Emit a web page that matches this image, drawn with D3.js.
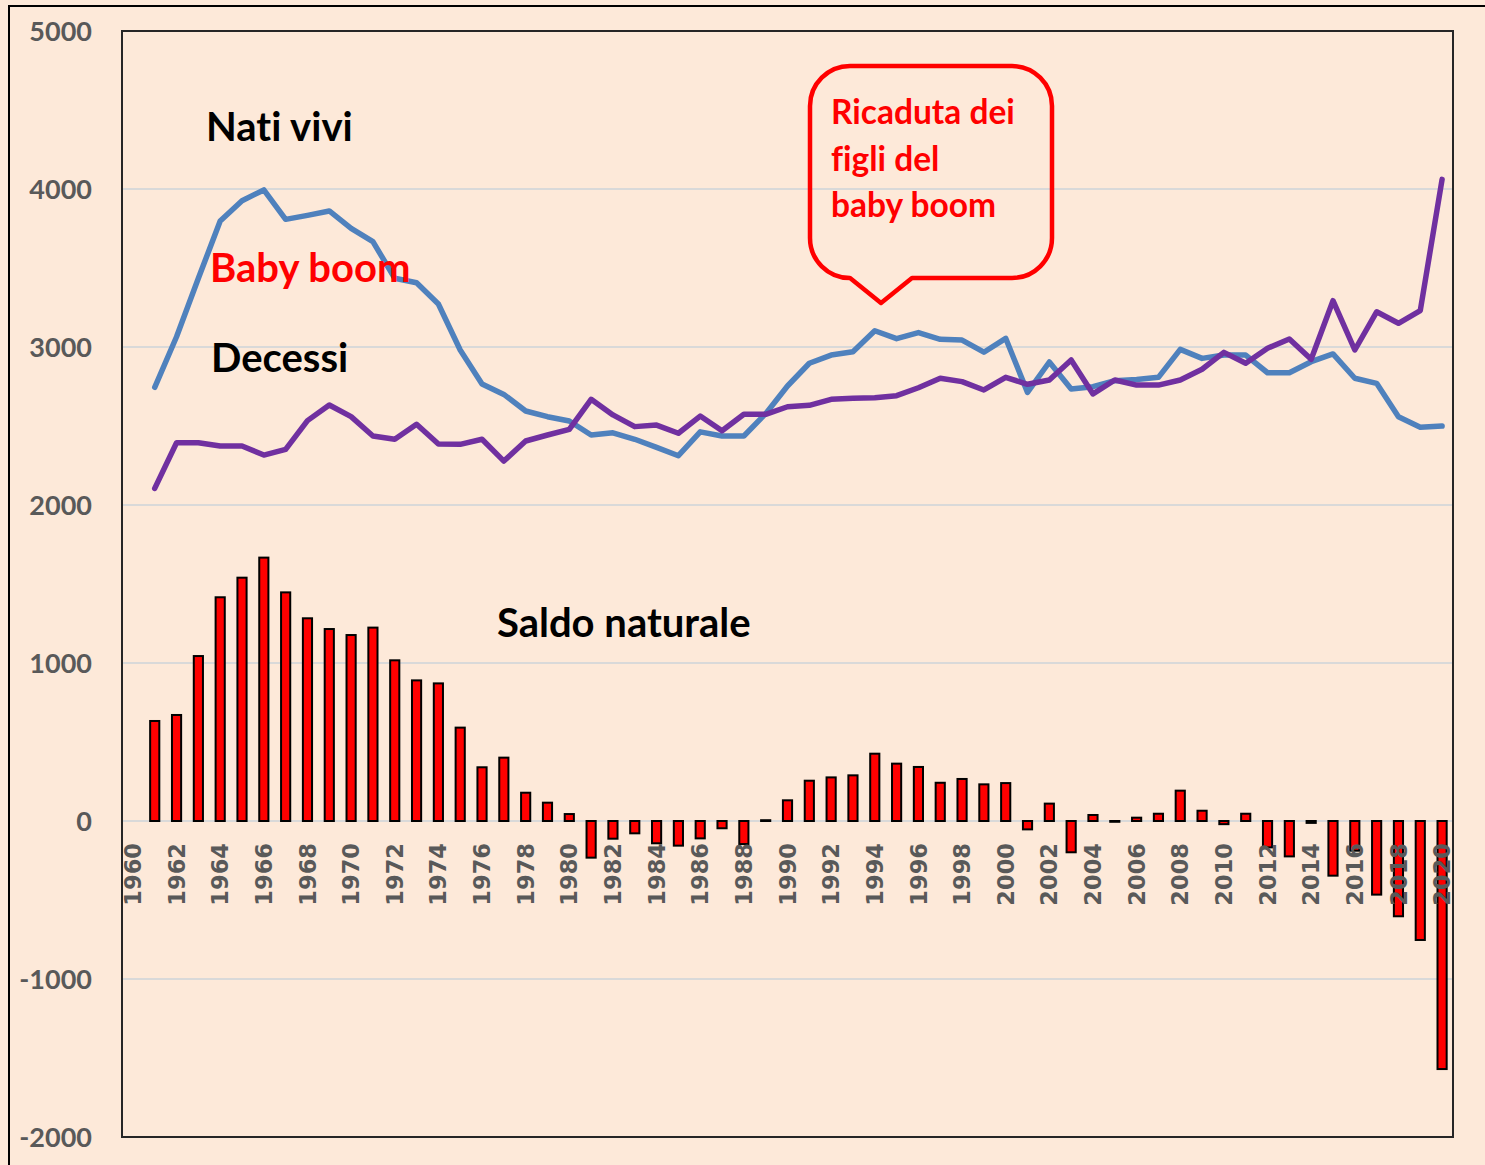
<!DOCTYPE html>
<html>
<head>
<meta charset="utf-8">
<script src="https://cdn.jsdelivr.net/npm/d3@7.9.0/dist/d3.min.js"></script>
<style>
  html, body { margin: 0; padding: 0; background: #fde9d9; }
  svg { display: block; }
  .ylab text { font-family: Lato, "Open Sans", sans-serif; font-weight: 700; font-size: 27px; fill: #595959; }
  .xlab text { font-family: "DejaVu Sans", sans-serif; font-weight: 700; font-size: 22.5px; fill: #595959; }
  .note { font-family: Lato, "Open Sans", sans-serif; font-weight: 700; font-variant-ligatures: none; }
</style>
</head>
<body>
<svg id="chart" width="1485" height="1165"></svg>
<script>
// anni 1960-2020 (1960 senza dati)
const years = d3.range(1960, 2021);

const natiVivi = [null,
  2745, 3065, 3435, 3797, 3926, 3994, 3808, 3833, 3861, 3751,
  3667, 3435, 3407, 3272, 2981, 2766, 2700, 2595, 2559, 2532,
  2443, 2457, 2416, 2365, 2312, 2463, 2437, 2437, 2578, 2753,
  2897, 2949, 2970, 3103, 3053, 3091, 3049, 3044, 2967, 3055,
  2713, 2905, 2734, 2749, 2787, 2795, 2808, 2985, 2928, 2949,
  2949, 2837, 2837, 2907, 2956, 2802, 2770, 2559, 2492, 2500];

const decessi = [null,
  2105, 2394, 2394, 2373, 2373, 2316, 2352, 2534, 2633, 2559,
  2437, 2416, 2511, 2386, 2384, 2416, 2278, 2405, 2443, 2479,
  2669, 2570, 2496, 2506, 2454, 2563, 2470, 2574, 2574, 2622,
  2631, 2669, 2675, 2679, 2692, 2742, 2802, 2781, 2728, 2808,
  2764, 2791, 2918, 2703, 2791, 2759, 2759, 2791, 2859, 2966,
  2897, 2992, 3051, 2922, 3293, 2981, 3223, 3150, 3230, 4061];

const saldo = [null,
  633, 671, 1044, 1416, 1540, 1667, 1447, 1283, 1215, 1177,
  1224, 1017, 890, 871, 591, 340, 401, 179, 116, 44,
  -232, -112, -78, -141, -156, -110, -46, -146, 5, 131,
  255, 276, 289, 426, 363, 342, 242, 266, 232, 240,
  -53, 110, -198, 38, -5, 21, 46, 192, 65, -20,
  46, -167, -224, -12, -346, -188, -466, -603, -753, -1570];

const yTicks = [-2000, -1000, 0, 1000, 2000, 3000, 4000, 5000];
const xTickYears = years.filter(y => y % 2 === 0);

const svg = d3.select('#chart');
const plot = { left: 122, right: 1453, top: 31, bottom: 1137 };

// cornice esterna
svg.append('rect')
  .attr('x', 9).attr('y', 6)
  .attr('width', 1500).attr('height', 1200)
  .attr('fill', '#fde9d9')
  .attr('stroke', '#000').attr('stroke-width', 2);

const x = d3.scaleBand().domain(years).range([plot.left, plot.right]).padding(0);
const y = d3.scaleLinear().domain([-2000, 5000]).range([plot.bottom, plot.top]);
const cx = d => x(d) + x.bandwidth() / 2;

// griglia
svg.append('g')
  .selectAll('line')
  .data(yTicks)
  .join('line')
  .attr('x1', plot.left).attr('x2', plot.right)
  .attr('y1', d => y(d)).attr('y2', d => y(d))
  .attr('stroke', '#d9d9d9').attr('stroke-width', 2);

// etichette asse y
const yAxis = svg.append('g')
  .attr('class', 'ylab')
  .attr('transform', `translate(${plot.left - 30},0)`)
  .call(d3.axisLeft(y).tickValues(yTicks).tickSize(0).tickPadding(0).tickFormat(d => String(d)));
yAxis.select('.domain').remove();
yAxis.selectAll('text').attr('dy', '0.36em');

// barre saldo naturale
const barW = x.bandwidth() * 0.42;
const barData = years.map((yr, i) => ({ yr, v: saldo[i] })).filter(d => d.v !== null);
svg.append('g')
  .selectAll('rect')
  .data(barData)
  .join('rect')
  .attr('x', d => cx(d.yr) - barW / 2)
  .attr('width', barW)
  .attr('y', d => y(Math.max(0, d.v)))
  .attr('height', d => Math.abs(y(d.v) - y(0)))
  .attr('fill', '#ff0000')
  .attr('stroke', '#000')
  .attr('stroke-width', 2);

// etichette asse x
const xAxis = svg.append('g')
  .attr('class', 'xlab')
  .attr('transform', `translate(0,${y(0)})`)
  .call(d3.axisBottom(x).tickValues(xTickYears).tickSize(0));
xAxis.select('.domain').remove();
xAxis.selectAll('text')
  .attr('transform', 'rotate(-90)')
  .attr('text-anchor', 'end')
  .attr('x', -22)
  .attr('y', 0)
  .attr('dy', '0.36em');

// linee
const line = d3.line()
  .defined(d => d.v !== null)
  .x(d => cx(d.yr))
  .y(d => y(d.v));

svg.append('path')
  .datum(years.map((yr, i) => ({ yr, v: natiVivi[i] })))
  .attr('d', line)
  .attr('fill', 'none')
  .attr('stroke', '#4f81bd')
  .attr('stroke-width', 5.5)
  .attr('stroke-linejoin', 'round')
  .attr('stroke-linecap', 'round');

svg.append('path')
  .datum(years.map((yr, i) => ({ yr, v: decessi[i] })))
  .attr('d', line)
  .attr('fill', 'none')
  .attr('stroke', '#7030a0')
  .attr('stroke-width', 5.5)
  .attr('stroke-linejoin', 'round')
  .attr('stroke-linecap', 'round');

// bordo area grafico
svg.append('rect')
  .attr('x', plot.left).attr('y', plot.top)
  .attr('width', plot.right - plot.left).attr('height', plot.bottom - plot.top)
  .attr('fill', 'none')
  .attr('stroke', '#262626').attr('stroke-width', 2);

// testi
const notes = [
  { t: 'Nati vivi', x: 206, y: 141, c: '#000' },
  { t: 'Baby boom', x: 210, y: 282, c: '#ff0000' },
  { t: 'Decessi', x: 211, y: 372, c: '#000' },
  { t: 'Saldo naturale', x: 497, y: 637, c: '#000' }
];
svg.append('g')
  .selectAll('text')
  .data(notes)
  .join('text')
  .attr('class', 'note')
  .attr('x', d => d.x).attr('y', d => d.y)
  .attr('fill', d => d.c)
  .style('font-size', '40px')
  .text(d => d.t);

// fumetto
const b = { l: 810, r: 1052, t: 66, b: 278, rad: 40 };
const p = d3.path();
p.moveTo(b.l + b.rad, b.t);
p.lineTo(b.r - b.rad, b.t);
p.arcTo(b.r, b.t, b.r, b.t + b.rad, b.rad);
p.lineTo(b.r, b.b - b.rad);
p.arcTo(b.r, b.b, b.r - b.rad, b.b, b.rad);
p.lineTo(912, b.b);
p.lineTo(881, 303);
p.lineTo(850, b.b);
p.lineTo(b.l + b.rad, b.b);
p.arcTo(b.l, b.b, b.l, b.b - b.rad, b.rad);
p.lineTo(b.l, b.t + b.rad);
p.arcTo(b.l, b.t, b.l + b.rad, b.t, b.rad);
p.closePath();
svg.append('path')
  .attr('d', p.toString())
  .attr('fill', 'none')
  .attr('stroke', '#ff0000')
  .attr('stroke-width', 4.5)
  .attr('stroke-linejoin', 'round');

const bubble = ['Ricaduta dei', 'figli del', 'baby boom'];
svg.append('g')
  .selectAll('text')
  .data(bubble)
  .join('text')
  .attr('class', 'note')
  .attr('x', 831)
  .attr('y', (d, i) => 124 + i * 46.5)
  .attr('fill', '#ff0000')
  .style('font-size', '33.5px')
  .text(d => d);
</script>
</body>
</html>
